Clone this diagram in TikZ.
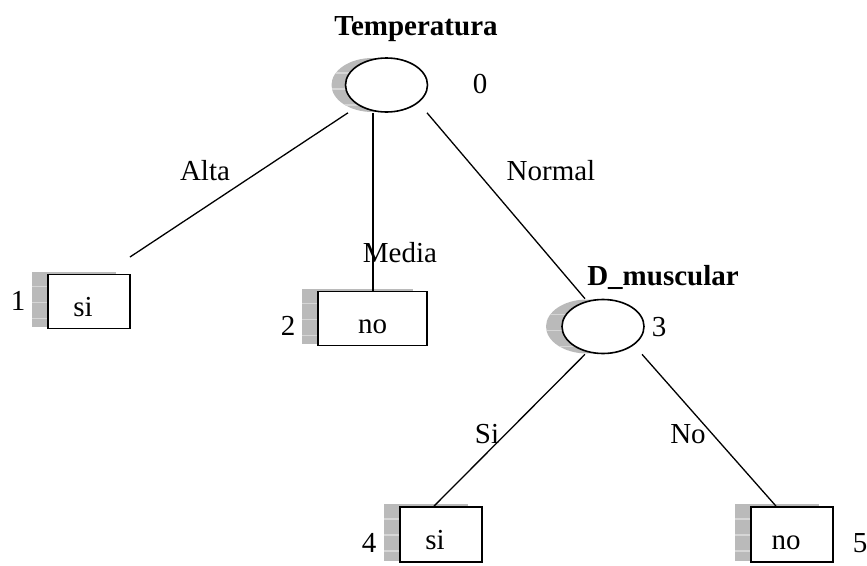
\documentclass[tikz,border=0pt]{standalone}
\usepackage{fontspec}
\setmainfont{Liberation Serif}
\usetikzlibrary{shapes.geometric,backgrounds}
\begin{document}
\begin{tikzpicture}[x=1pt,y=-1pt,
  every node/.style={font=\fontsize{29}{34}\selectfont},
  decision/.style={ellipse, draw, line width=1.6pt, fill=white,
    minimum width=82pt, minimum height=54pt, inner sep=0pt},
  leaf/.style={rectangle, draw, line width=1.8pt, fill=white,
    minimum width=82pt, minimum height=54pt, inner sep=0pt,
    text height=30pt, text depth=0pt},
  leftish/.style={execute at begin node={\hspace*{-12pt}}},
  edge/.style={line width=1.3pt},
  tag/.style={anchor=base},
  title/.style={anchor=base, font=\fontsize{29}{34}\selectfont\bfseries},
  shadowfill/.style={fill=black!27,
    path picture={\foreach \k in {1,...,5}
      \draw[black!16, line width=1.4pt]
        ([yshift=-\k*16pt+1pt]path picture bounding box.north west) -- ++(140pt,0);}}
]
\useasboundingbox (0,0) rectangle (867,565);

% decision nodes
\node[decision] (root) at (386.5,85) {};
\node[decision] (dm) at (603,326.5) {};

% leaves
\node[leaf, leftish] (b1) at (89,301.5) {si};
\node[leaf, minimum width=109pt] (b2) at (372.5,318.5) {no};
\node[leaf, leftish, minimum height=55pt] (b4) at (441,534.5) {si};
\node[leaf, leftish, minimum height=55pt] (b5) at (792,534.5) {no};

% striped shadows behind the nodes
\begin{scope}[on background layer]
  \fill[shadowfill] ([xshift=-14pt]root.center) ellipse [x radius=41pt, y radius=27pt];
  \fill[shadowfill] ([xshift=-16pt]dm.center) ellipse [x radius=41pt, y radius=27pt];
  \foreach \b in {b1,b2,b4,b5}
    \fill[shadowfill] ([xshift=-15pt,yshift=2pt]\b.north west)
      rectangle ([xshift=-15pt,yshift=2pt]\b.south east);
\end{scope}

% titles and numbers
\node[title] (t0) at (416,35) {Temperatura};
\node[title] (t3) at (663,285) {D\_muscular};
\node[tag] (n0) at (480,93) {0};
\node[tag] (n1) at (18,310) {1};
\node[tag] (n2) at (288,335) {2};
\node[tag] (n3) at (659,336) {3};
\node[tag] (n4) at (369,552) {4};
\node[tag] (n5) at (860,552) {5};

% branch labels
\node[tag] (lalta) at (205,180) {Alta};
\node[tag] (lmedia) at (400,262) {Media};
\node[tag] (lnormal) at (551,180) {Normal};
\node[tag] (lsi) at (487,443) {Si};
\node[tag] (lno) at (688,443) {No};

% branches
\coordinate (altaend) at (130,257);
\coordinate (mtop) at ([xshift=-13.5pt]root.south);
\draw[edge] ([xshift=-38.5pt]root.south) -- (altaend);
\draw[edge] (mtop) -- (mtop |- b2.north);
\draw[edge] ([xshift=40.5pt]root.south) -- ([xshift=-18pt]dm.north);
\draw[edge] ([xshift=-18pt]dm.south) -- ([xshift=-7pt]b4.north);
\draw[edge] ([xshift=39pt]dm.south) -- ([xshift=-16pt]b5.north);
\end{tikzpicture}
\end{document}
